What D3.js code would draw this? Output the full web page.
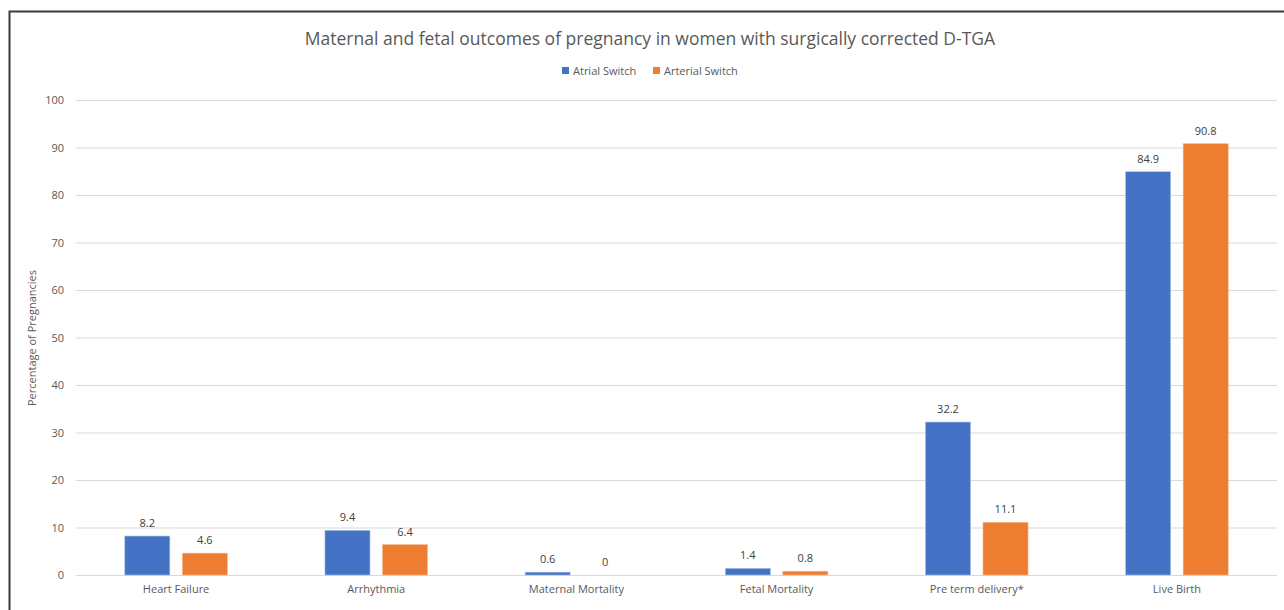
<!DOCTYPE html>
<html><head><meta charset="utf-8">
<script src="https://cdn.jsdelivr.net/npm/d3@7"></script>
<style>body{margin:0;background:#fff}svg{display:block;font-family:"Open Sans",sans-serif}</style>
</head><body><svg id="c" width="1284" height="610"></svg>
<script>
const categories = ["Heart Failure","Arrhythmia","Maternal Mortality","Fetal Mortality","Pre term delivery*","Live Birth"];
const seriesNames = ["Atrial Switch","Arterial Switch"];
const atrial = [8.2, 9.4, 0.6, 1.4, 32.2, 84.9];
const arterial = [4.6, 6.4, 0, 0.8, 11.1, 90.8];
const yTicks = [0,10,20,30,40,50,60,70,80,90,100];
const colors = ["#4472C4","#ED7D31"];

const svg = d3.select("#c");
svg.append("rect").attr("x",9.5).attr("y",11.5).attr("width",1300).attr("height",620)
  .attr("fill","#fff").attr("stroke","#3a3a3a").attr("stroke-width",2);

const x = d3.scaleBand().domain(categories).range([76,1277]);
const y = d3.scaleLinear().domain([0,100]).range([575,100]);
const x1 = d3.scaleBand().domain(seriesNames).range([0,x.bandwidth()]).paddingInner(0.217).paddingOuter(0.848);

svg.append("g").selectAll("line").data(yTicks).join("line")
  .attr("x1",76).attr("x2",1277).attr("y1",d=>y(d)+0.5).attr("y2",d=>y(d)+0.5)
  .attr("stroke","#d9d9d9").attr("stroke-width",1);

const ya = svg.append("g").attr("transform","translate(76,0)")
  .call(d3.axisLeft(y).tickValues(yTicks).tickSize(0).tickPadding(12));
ya.select(".domain").remove();
ya.selectAll("text").attr("fill","#595959").attr("font-size",11).attr("font-family","Open Sans");

const xa = svg.append("g").attr("transform","translate(0,575)")
  .call(d3.axisBottom(x).tickSize(0).tickPadding(10));
xa.select(".domain").remove();
xa.selectAll("text").attr("fill","#595959").attr("font-size",11).attr("font-family","Open Sans");

const data = categories.map((c,i)=>({cat:c, vals:[atrial[i],arterial[i]]}));
const g = svg.append("g").selectAll("g").data(data).join("g")
  .attr("transform",d=>`translate(${x(d.cat)},0)`);
g.selectAll("rect").data(d=>d.vals.map((v,j)=>({v,s:seriesNames[j],j}))).join("rect")
  .attr("x",d=>x1(d.s)).attr("width",x1.bandwidth())
  .attr("y",d=>y(d.v)).attr("height",d=>y(0)-y(d.v))
  .attr("fill",d=>colors[d.j]).attr("stroke",d=>d.j?"#f7b98f":"#a9c0e8").attr("stroke-width",d=>d.v>0?0.6:0);
g.selectAll("text").data(d=>d.vals.map((v,j)=>({v,s:seriesNames[j],j}))).join("text")
  .attr("x",d=>x1(d.s)+x1.bandwidth()/2).attr("y",d=>y(d.v)-9)
  .attr("text-anchor","middle").attr("font-size",11).attr("fill","#404040")
  .text(d=>d.v);

svg.append("text").attr("x",650).attr("y",45).attr("text-anchor","middle")
  .attr("font-size",17.5).attr("fill","#595959").text("Maternal and fetal outcomes of pregnancy in women with surgically corrected D-TGA");

const lg = svg.append("g");
const lx = [562, 653];
seriesNames.forEach((s,i)=>{
  lg.append("rect").attr("x",lx[i]).attr("y",67).attr("width",7).attr("height",7).attr("fill",colors[i]);
  lg.append("text").attr("x",lx[i]+11).attr("y",75).attr("font-size",11).attr("fill","#595959").text(s);
});

svg.append("text").attr("transform","translate(36,338) rotate(-90)").attr("text-anchor","middle")
  .attr("font-size",11).attr("fill","#595959").text("Percentage of Pregnancies");
</script></body></html>
